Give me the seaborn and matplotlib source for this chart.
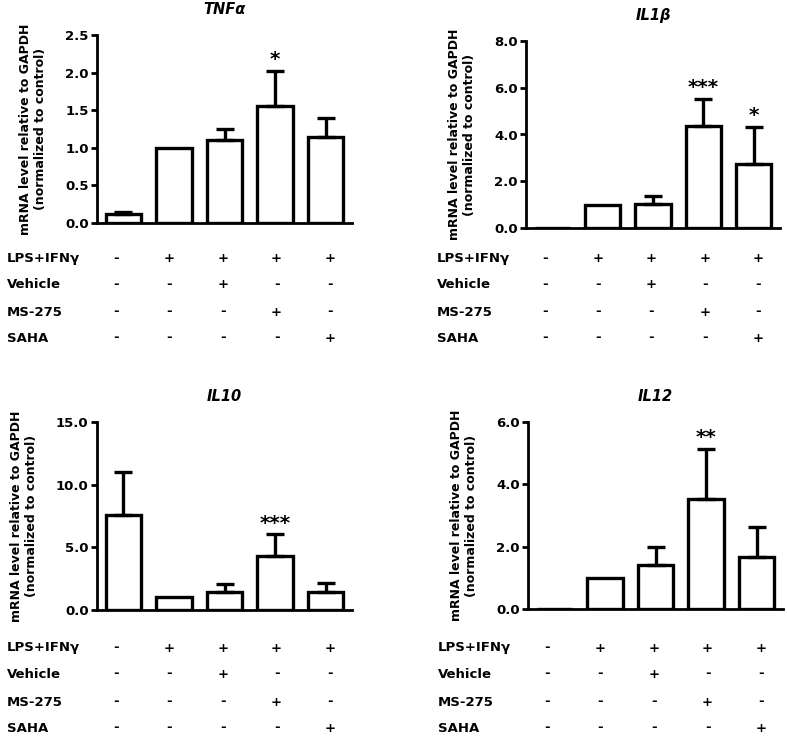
#!/usr/bin/env python3

import numpy as np
import pandas as pd
import matplotlib.pyplot as plt
import matplotlib.transforms as mtransforms
import seaborn as sns

# treatment groups (5 bars per panel)
groups = ['control', 'LPS+IFNg', 'LPS+IFNg+Vehicle', 'LPS+IFNg+MS-275', 'LPS+IFNg+SAHA']

# mean and error (upper only)
tnf_mean = [0.12, 1.0, 1.10, 1.56, 1.15]
tnf_err = [0.03, 0.0, 0.15, 0.46, 0.25]
tnf_stars = ['', '', '', '*', '']

il1b_mean = [0.0, 1.0, 1.04, 4.38, 2.72]
il1b_err = [0.0, 0.0, 0.33, 1.14, 1.61]
il1b_stars = ['', '', '', '***', '*']

il10_mean = [7.6, 1.0, 1.4, 4.34, 1.4]
il10_err = [3.4, 0.0, 0.65, 1.71, 0.73]
il10_stars = ['', '', '', '***', '']

il12_mean = [0.0, 1.0, 1.41, 3.54, 1.66]
il12_err = [0.0, 0.0, 0.58, 1.60, 0.96]
il12_stars = ['', '', '', '**', '']

# treatment table under each panel
row_names = ['LPS+IFNγ', 'Vehicle', 'MS-275', 'SAHA']
lps = ['-', '+', '+', '+', '+']
vehicle = ['-', '-', '+', '-', '-']
ms275 = ['-', '-', '-', '+', '-']
saha = ['-', '-', '-', '-', '+']
rows = [lps, vehicle, ms275, saha]

sns.set_style('ticks')
plt.rcParams['font.family'] = ['DejaVu Sans']
plt.rcParams['font.weight'] = 'bold'
plt.rcParams['text.color'] = 'black'
plt.rcParams['axes.labelcolor'] = 'black'
plt.rcParams['axes.edgecolor'] = 'black'
plt.rcParams['ytick.color'] = 'black'
plt.rcParams['xtick.color'] = 'black'

W, H = 787, 736
fig = plt.figure(figsize=(W / 100, H / 100), dpi=100)


def panel(rect, title, means, errs, stars, ymax, ystep, row_y):
    ax = fig.add_axes(rect)
    df = pd.DataFrame({'group': groups, 'value': means})
    sns.barplot(data=df, x='group', y='value', ax=ax, color='white', saturation=1,
                edgecolor='black', linewidth=2.4, width=0.7, errorbar=None)

    x = np.arange(len(groups))
    m = np.array(errs) > 0
    ax.errorbar(x[m], np.array(means)[m], yerr=[np.zeros(m.sum()), np.array(errs)[m]],
                fmt='none', ecolor='black', elinewidth=2.4, capsize=6.5, capthick=2.4, zorder=5)

    for i, s in enumerate(stars):
        if s:
            ax.annotate(s, xy=(i, means[i] + errs[i]), xytext=(0, 8), textcoords='offset points',
                        ha='center', va='center', fontsize=14.5, fontweight='bold')

    ax.set_xlim(-0.52, 4.52)
    ax.set_ylim(0, ymax)
    ticks = np.arange(0, ymax + ystep / 2, ystep)
    ax.set_yticks(ticks)
    ax.set_yticklabels([f'{v:.1f}' for v in ticks], fontsize=9.5, fontweight='bold')
    ax.set_xticks([])
    ax.set_xlabel('')
    ax.set_ylabel('mRNA level relative to GAPDH\n(normalized to control)',
                  fontsize=9, fontweight='bold', labelpad=13)
    ax.set_title(title, fontsize=10.5, fontweight='bold', fontstyle='italic', pad=15)
    sns.despine(ax=ax)
    for sp in ['left', 'bottom']:
        ax.spines[sp].set_linewidth(2.0)
    ax.tick_params(axis='y', width=2.0, length=4, pad=2)

    # treatment table
    trans = mtransforms.blended_transform_factory(ax.transData, fig.transFigure)
    trans_lab = mtransforms.blended_transform_factory(ax.transAxes, fig.transFigure)
    for name, signs, yp in zip(row_names, rows, row_y):
        yf = 1 - yp / H
        ax.text(-0.352, yf, name, transform=trans_lab, ha='left', va='center',
                fontsize=9.5, fontweight='bold', clip_on=False)
        for i, s in enumerate(signs):
            ax.text(i * 1.06 - 0.15, yf, s, transform=trans, ha='center', va='center',
                    fontsize=9.5, fontweight='bold', clip_on=False)
    return ax


top_rows = [258, 284, 312, 338]
bot_rows = [648, 674, 702, 728]

panel([97 / W, 1 - 223 / H, 255 / W, 188 / H], 'TNFα', tnf_mean, tnf_err, tnf_stars, 2.5, 0.5, top_rows)
panel([526 / W, 1 - 228 / H, 254 / W, 187 / H], 'IL1β', il1b_mean, il1b_err, il1b_stars, 8.0, 2.0, top_rows)
panel([97 / W, 1 - 610 / H, 255 / W, 188 / H], 'IL10', il10_mean, il10_err, il10_stars, 15.0, 5.0, bot_rows)
panel([528 / W, 1 - 609 / H, 255 / W, 187 / H], 'IL12', il12_mean, il12_err, il12_stars, 6.0, 2.0, bot_rows)

plt.savefig('out.png', dpi=100)
